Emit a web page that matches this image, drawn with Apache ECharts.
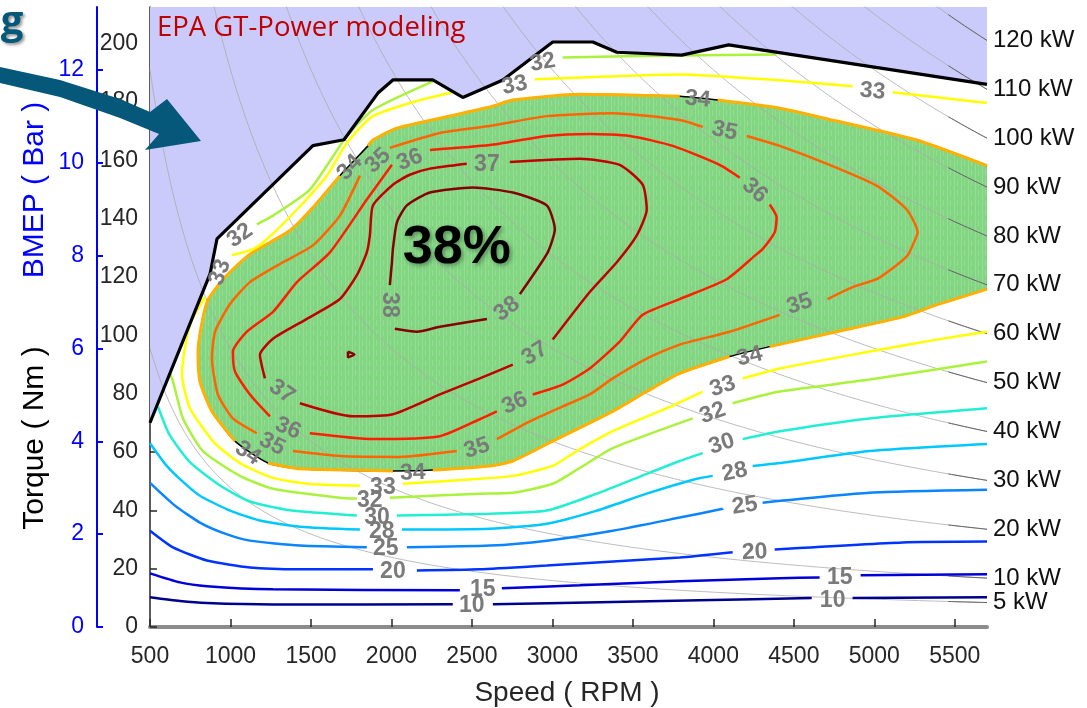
<!DOCTYPE html>
<html><head><meta charset="utf-8">
<script src="https://cdn.jsdelivr.net/npm/echarts@6/dist/echarts.min.js"></script>
<style>html,body{margin:0;padding:0;background:#fff}#c{width:1087px;height:708px}</style>
</head><body><div id="c"></div>
<script>
// ---------- data (RPM, Nm) ----------
const powerKw = [5,10,20,30,40,50,60,70,80,90,100,110,120];
const displacementL = 2.0;
const wotCurve = [[500,70],[873,121],[916,133],[1512,165],[1705,167],[1916,183],[2009,187.5],[2257,187.5],[2443,181.5],[2611,185.5],[2692,187.5],[3002,200.5],[3251,200.5],[3400,197],[3803,196],[4095,199.5],[5700,186]];

const eff10 = [[500,10.2],[686,8.9],[854,8.2],[1264,7.7],[2381,7.8],null,[2630,7.8],[3294,8.5],[3915,9.2],[4611,9.9],null,[4865,9.9],[5700,10.2]];
const eff15 = [[500,18.4],[686,15.3],[854,14.0],[1264,12.9],[2425,12.6],null,[2686,13.3],[3170,14.3],[3791,15.7],[4412,16.7],[4660,17.0],null,[4915,17.7],[5700,18.1]];
const eff20 = [[500,33.0],[643,27.3],[854,22.8],[1121,20.4],[1431,19.8],[1885,19.8],null,[2158,19.4],[2549,19.8],[2965,21.1],[3170,21.8],[3791,23.8],[4120,25.6],null,[4381,26.6],[5176,29.0],[5700,29.3]];
const eff25 = [[500,49.4],[655,41.6],[810,35.8],[966,32.0],[1121,29.6],[1431,27.9],[1847,27.3],null,[2096,27.3],[2611,27.9],[2965,29.6],[3375,33.0],[3791,37.5],[4058,40.5],null,[4306,42.6],[4971,46.0],[5700,47.0]];
const eff28 = [[500,63.0],[600,55.5],[700,50.0],[810,45.0],[997,39.9],[1183,36.5],[1431,34.4],[1804,33.4],null,[2065,33.4],[2611,33.7],[2965,35.4],[3276,39.9],[3586,45.7],[3897,50.8],[3996,51.8],null,[4244,55.2],[4412,56.2],[4971,60.3],[5700,62.7]];
const eff30 = [[550,75.5],[620,66.0],[748,56.5],[935,48.5],[1121,43.0],[1369,40.0],[1785,38.2],null,[2034,38.2],[2611,38.8],[2965,39.9],[3276,45.7],[3586,52.5],[3791,56.9],[3934,59.6],null,[4182,64.4],[4412,67.1],[4971,71.5],[5700,75.0]];
const eff32 = [[5700,91.0],[4971,84.8],[4412,80.7],[4120,76.7],null,[3872,71.5],[3375,61.3],[3170,54.5],[3002,49.1],[2754,46.0],[2549,45.7],[1990,44.3],null,[1785,44.0],[1680,44.3],[1264,47.4],[1059,51.8],[829,60.3],[705,71.5],[643,84.2],[624,86.9],null,[1164,138.0],[1264,141.0],[1493,149.9],[1723,168.3],[1885,177.2],[2257,187.0],null,[3064,195.2],[3791,195.9],[4393,196.2]];
const eff33 = [[5700,101.2],[5387,98.5],[4971,94.4],[4412,88.6],[4182,85.2],null,[3934,80.7],[3710,75.0],[3375,67.1],[3151,60.3],[3002,55.2],[2754,51.8],[2549,50.8],[2071,49.1],null,[1804,48.4],[1475,49.1],[1264,51.1],[1090,55.2],[997,58.6],[891,63.7],[748,75.0],[699,86.5],[724,97.8],[761,105.3],[842,113.1],null,[1009,127.4],[1140,129.5],[1226,132.9],[1413,143.1],[1599,154.7],[1723,165.9],[1885,175.1],[2177,180.6],[2381,183.3],null,[2891,187.7],[3791,189.4],[4412,187.4],[4865,185.3],null,[5114,183.3],[5700,179.6]];
const eff34 = [[5700,158.1],[5263,166.9],[4766,173.4],[4412,177.8],[4027,180.6],null,[3791,181.9],[3170,182.6],[2754,180.6],[2611,178.2],[2301,174.4],[2034,171.0],[1885,166.9],[1854,164.9],null,[1680,154.7],[1512,143.8],[1369,135.9],[1121,127.8],[966,119.9],[854,111.4],[798,94.4],[810,84.2],[885,73.9],[1028,63.7],null,[1233,56.2],[1431,54.2],[2009,53.5],null,[2257,53.8],[2611,55.2],[2754,56.9],[3002,63.7],[3375,73.9],[3586,80.7],[3791,86.9],[4101,92.7],null,[4350,96.1],[4766,101.2],[5176,106.3],[5387,110.4],[5700,115.8]];
const eff35 = [[1804,154.7],[1680,141.0],[1512,130.8],[1326,125.0],[1121,118.2],[997,110.7],[904,101.2],[885,92.0],[922,79.7],[1015,71.5],[1164,66.4],null,[1388,60.3],[1680,58.6],[2052,58.3],[2406,60.3],null,[2655,64.4],[2860,70.5],[3064,75.6],[3232,79.7],[3375,85.2],[3586,92.0],[3791,96.8],[4101,101.2],[4412,107.0],null,[4710,112.4],[4865,116.5],[5014,119.2],[5138,124.0],[5207,127.4],[5238,130.8],[5269,135.3],[5201,143.1],[5014,151.3],[4722,158.4],[4412,164.9],[4207,168.3],null,[3934,171.4],[3791,173.8],[3375,176.1],[2965,175.1],[2611,171.7],[2301,169.3],[1990,164.2]];
const eff36 = [[2239,163.5],[2611,165.2],[2965,168.3],[3232,169.0],[3481,168.3],[3748,164.9],[4039,158.4],[4164,154.0],null,[4350,144.8],[4393,140.4],[4381,135.3],[4306,129.5],[4269,127.8],[4083,119.2],[3791,112.4],[3561,107.0],[3418,97.8],[3232,88.6],[3064,83.1],[2878,79.7],null,[2655,73.9],[2549,71.2],[2301,65.4],[1885,64.4],[1493,66.4],null,[1245,72.2],[1121,79.7],[1028,87.6],[1015,94.4],[1102,101.2],[1264,108.0],[1413,118.2],[1618,128.4],[1847,146.5],[2003,158.4]];
const eff37 = [[2735,159.4],[3170,160.5],[3418,158.4],[3561,151.6],[3586,143.1],[3524,134.2],[3400,125.0],[3232,114.8],[3002,98.5],null,[2754,89.9],[2549,85.2],[2301,79.7],[2009,72.9],[1761,72.2],[1431,76.7],null,[1214,85.2],[1183,93.3],[1264,98.8],[1475,105.6],[1680,112.4],[1785,120.6],[1847,128.4],[1866,134.2],[1885,144.5],[2009,151.6],[2114,155.0],[2239,157.1],[2468,158.8]];
const eff38 = [[1990,117.2],[2003,125.0],[2009,129.5],[2034,138.7],[2096,144.5],[2239,148.9],[2506,150.6],[2754,148.9],[2965,144.5],[3015,136.3],[2971,128.4],[2798,114.1],null,[2593,105.6],[2301,102.9],[2158,101.2],[2021,102.2]];
const eff38Island = [[1730,94.4],[1770,93.4],[1730,92.4],[1730,94.4]];

// contour labels: [text, rpm, torque, angle]
const effLabels = [
 ['10',2499,7.2,0],['10',4741,9.2,0],
 ['15',2568,12.9,0],['15',4785,17.0,0],
 ['20',2009,19.1,0],['20',4257,25.6,3],
 ['25',1965,26.9,0],['25',4195,41.6,8],
 ['28',1940,32.7,0],['28',4133,53.1,12],
 ['30',1910,37.5,0],['30',4052,62.7,18],
 ['32',1866,43.3,0],['32',3996,73.3,20],['32',1059,134.2,35],['32',2940,193.5,10],
 ['33',1947,47.7,0],['33',4058,82.4,18],['33',935,121.6,70],['33',2766,185.7,12],['33',4989,183.6,-5],
 ['34',1742,157.5,47],['34',3903,180.9,-6],['34',4226,92.7,14],['34',2133,52.8,2],['34',1108,59.6,-34],
 ['35',1916,159.8,43],['35',4070,170.0,-12],['35',4536,110.7,18],['35',2531,61.3,17],['35',1258,62.7,-27],
 ['36',2114,160.1,22],['36',4257,149.6,-42],['36',2767,76.7,25],['36',1357,68.1,-23],
 ['37',2593,158.4,0],['37',2891,93.7,32],['37',1320,80.7,-35],
 ['38',2717,109.0,37],['38',1990,110.4,-90]
];
const peakLabel = ['38%',2406,129.8];

// ---------- build ----------
const FONT = '"Liberation Sans", Arial, sans-serif';
const nmPerBar = displacementL * 1e-3 * 1e5 / (4 * Math.PI);
const torqueMax = 212.5;
const contourStyle = [
  [eff10,'#00008c'],[eff15,'#0000d8'],[eff20,'#0033ff'],[eff25,'#0a84ff'],[eff28,'#00c8ff'],
  [eff30,'#22efd2'],[eff32,'#aaf23c'],[eff33,'#ffff00'],[eff35,'#ff6400'],[eff36,'#ff1e00'],
  [eff37,'#c00000'],[eff38,'#850000'],[eff38Island,'#850000']
];
const gapify = arr => arr.map(p => p ? p : ['-','-']);
const plain = v => String(v);

// striped green fill pattern
const pat = document.createElement('canvas'); pat.width = 7; pat.height = 10;
const pg = pat.getContext('2d');
pg.fillStyle = '#82d682'; pg.fillRect(0,0,7,10);
pg.fillStyle = 'rgba(255,255,255,0.16)'; pg.fillRect(2,0,1,10); pg.fillRect(5,0,1,6);

const series = [];
series.push({type:'line', data: wotCurve, showSymbol:false, lineStyle:{width:0}, areaStyle:{origin:'end', color:'#cbcbfb', opacity:1}, z:1, silent:true});
const eff34Full = eff34.filter(Boolean);
series.push({type:'custom', data: eff34Full, encode:{x:0,y:1}, z:1, silent:true, clip:true,
  renderItem:(params, api) => {
    if (params.dataIndex !== 0) return null;
    return {type:'polygon', shape:{points: eff34Full.map(p => api.coord(p))}, style:{fill:{image:pat, repeat:'repeat'}}};
  }});

powerKw.forEach(p => {
  const pts = [], tail = [];
  const nStart = Math.max(500, Math.ceil(9549.3 * p / 240 / 20) * 20);
  for (let n = nStart; n <= 5700; n += 20) { pts.push([n, 9549.3 * p / n]); if (n >= 5460) tail.push([n, 9549.3 * p / n]); }
  series.push({type:'line', data: pts, showSymbol:false, silent:true, z:2, lineStyle:{color:'#ababab', width:0.8},
    endLabel:{show:true, formatter: p + ' kW', color:'#111', fontSize:24, fontFamily:FONT, distance:6}});
  series.push({type:'line', data: tail, showSymbol:false, silent:true, z:2, lineStyle:{color:'#5a5a5a', width:0.9}});
});

series.push({type:'line', data: eff34Full, showSymbol:false, silent:true, z:3, smooth:0.2, lineStyle:{color:'#000', width:1.5}});
series.push({type:'line', data: gapify(eff34), showSymbol:false, silent:true, z:3, smooth:0.2, connectNulls:false, lineStyle:{color:'#ffb000', width:3}});
contourStyle.forEach(([arr, col]) => {
  series.push({type:'line', data: gapify(arr), showSymbol:false, silent:true, z:3, smooth:0.2, connectNulls:false, lineStyle:{color:col, width:2.5}});
});
series.push({type:'line', data: wotCurve, showSymbol:false, silent:true, z:4, lineStyle:{color:'#000', width:3.2}});

series.push({type:'scatter', symbolSize:1, itemStyle:{color:'rgba(0,0,0,0)', opacity:1}, silent:true, z:6,
  data: effLabels.map(l => ({value:[l[1], l[2]], label:{show:true, position:'inside', formatter:l[0], rotate:l[3]}})),
  label:{show:true, opacity:1, color:'#7a7a7a', fontSize:23, fontWeight:'bold', fontFamily:FONT}});
series.push({type:'scatter', symbolSize:1, itemStyle:{color:'rgba(0,0,0,0)', opacity:1}, silent:true, z:7,
  data:[{value:[peakLabel[1], peakLabel[2]], label:{show:true, position:'inside', formatter:peakLabel[0]}}],
  label:{show:true, opacity:1, color:'#000', fontSize:54, fontWeight:'bold', fontFamily:FONT, textBorderWidth:0, textShadowColor:'rgba(0,0,0,0.35)', textShadowBlur:4, textShadowOffsetX:2, textShadowOffsetY:2}});

const chart = echarts.init(document.getElementById('c'));
chart.setOption({
  animation:false,
  backgroundColor:'#fff',
  grid:{left:150, right:100, top:7, bottom:81, containLabel:false, outerBoundsMode:'none'},
  xAxis:{type:'value', min:500, max:5700, interval:500,
    axisLine:{show:true, onZero:false, lineStyle:{color:'#8c8c8c', width:4}},
    axisTick:{show:true, inside:true, length:8, lineStyle:{color:'#262626', width:1.5}},
    axisLabel:{fontSize:23, color:'#262626', fontFamily:FONT, margin:18, showMaxLabel:false, formatter:plain},
    splitLine:{show:false}},
  yAxis:[
    {type:'value', min:0, max:torqueMax, interval:20, position:'left',
     axisLine:{show:true, lineStyle:{color:'#262626', width:1.5}},
     axisTick:{show:true, inside:true, length:7, lineStyle:{color:'#262626', width:1.5}},
     axisLabel:{fontSize:23, color:'#262626', fontFamily:FONT, margin:12, showMaxLabel:false, formatter:plain},
     splitLine:{show:false}},
    {type:'value', min:0, max:torqueMax / nmPerBar, interval:2, position:'left', offset:53,
     axisLine:{show:true, lineStyle:{color:'#0000ff', width:2}},
     axisTick:{show:true, inside:true, length:6, lineStyle:{color:'#0000ff', width:2}},
     axisLabel:{fontSize:23, color:'#0000ff', fontFamily:FONT, margin:13, showMaxLabel:false, formatter:plain},
     splitLine:{show:false}}
  ],
  graphic:[
    {type:'polygon', z:10, shape:{points:[[0,67],[60,80],[120,99],[150,112],[167,99],[201,141],[145,150],[159,134],[120,118],[60,97],[0,83]]}, style:{fill:'#05587a'}},
    {type:'text', z:10, x:12, y:23, style:{text:'g', fontSize:40, fontWeight:'bold', fontFamily:'"Open Sans", sans-serif', fill:'#05587a', textAlign:'center', textVerticalAlign:'middle', textShadowColor:'rgba(0,0,0,0.4)', textShadowBlur:3, textShadowOffsetX:2, textShadowOffsetY:2}},
    {type:'text', z:10, x:157, y:28, style:{text:'EPA GT-Power modeling', fontSize:27.5, fontFamily:'"Open Sans", sans-serif', fill:'#c00000', textVerticalAlign:'middle'}},
    {type:'text', z:10, x:35, y:438, rotation:Math.PI/2, style:{text:'Torque ( Nm )', fontSize:30, fontFamily:FONT, fill:'#000', textAlign:'center', textVerticalAlign:'middle'}},
    {type:'text', z:10, x:35, y:190, rotation:Math.PI/2, style:{text:'BMEP ( Bar )', fontSize:30, fontFamily:FONT, fill:'#0000ff', textAlign:'center', textVerticalAlign:'middle'}},
    {type:'text', z:10, x:567, y:693, style:{text:'Speed ( RPM )', fontSize:28, fontFamily:FONT, fill:'#262626', textAlign:'center', textVerticalAlign:'middle'}}
  ],
  series: series
});
</script></body></html>
